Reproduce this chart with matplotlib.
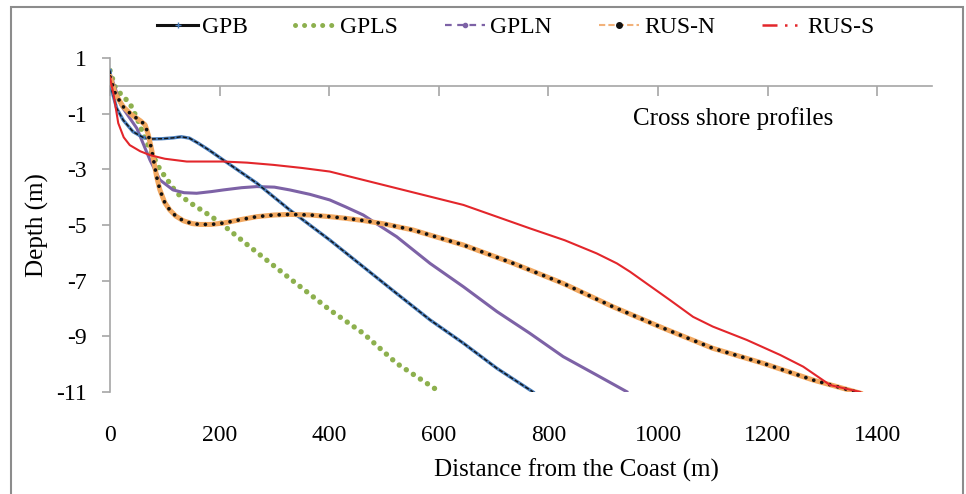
import numpy as np
import matplotlib
matplotlib.use("Agg")
import matplotlib.pyplot as plt
from matplotlib.lines import Line2D
from matplotlib.patches import Rectangle

# cross shore profiles (distance m, depth m)
gpb_x = [0, 3, 12, 24, 42, 60, 73, 95, 115, 130, 145, 160, 180, 207, 268, 328, 401, 462,
         523, 584, 645, 706, 772]
gpb_y = [0.55, -0.15, -0.8, -1.23, -1.65, -1.85, -1.91, -1.9, -1.87, -1.83, -1.88, -2.05,
         -2.3, -2.67, -3.5, -4.46, -5.54, -6.5, -7.46, -8.41, -9.25, -10.15, -11.0]

gpls_x = [0, 9, 21, 36, 50, 62, 73, 91, 122, 150, 176, 200, 255, 330, 401, 462, 523, 602]
gpls_y = [0.55, -0.03, -0.33, -0.62, -1.2, -1.8, -2.3, -3.0, -3.86, -4.25, -4.58, -4.9,
          -5.78, -6.95, -8.05, -8.89, -9.97, -11.0]

gpln_x = [0, 20, 49, 73, 91, 115, 135, 158, 185, 207, 240, 268, 300, 328, 365, 401, 430,
          462, 490, 523, 584, 645, 706, 766, 827, 888, 943]
gpln_y = [0.45, -0.7, -1.53, -2.67, -3.38, -3.74, -3.84, -3.86, -3.8, -3.74, -3.66, -3.62,
          -3.64, -3.74, -3.9, -4.1, -4.35, -4.64, -5.0, -5.42, -6.38, -7.22, -8.11, -8.89,
          -9.73, -10.39, -10.99]

rusn_x = [0, 10, 24, 40, 55, 64, 70, 76, 85, 91, 100, 109, 120, 134, 150, 164, 185, 207,
          240, 268, 300, 328, 365, 401, 430, 462, 500, 553, 645, 736, 827, 918, 1010, 1100,
          1192, 1283, 1369]
rusn_y = [0.32, -0.3, -0.75, -1.05, -1.25, -1.4, -1.77, -2.3, -3.26, -3.74, -4.2, -4.46,
          -4.68, -4.85, -4.95, -4.98, -4.98, -4.93, -4.8, -4.7, -4.64, -4.62, -4.64, -4.7,
          -4.76, -4.84, -4.96, -5.18, -5.72, -6.38, -7.1, -7.94, -8.71, -9.43, -9.97,
          -10.57, -11.04]

russ_x = [0, 6, 15, 25, 36, 55, 73, 100, 140, 207, 250, 298, 350, 401, 523, 645, 766, 830,
          888, 925, 949, 979, 1022, 1064, 1100, 1162, 1223, 1265, 1314, 1338, 1369]
russ_y = [0.3, -0.26, -1.34, -1.85, -2.13, -2.35, -2.49, -2.62, -2.72, -2.72, -2.76, -2.84,
          -2.95, -3.08, -3.68, -4.28, -5.12, -5.55, -6.02, -6.38, -6.68, -7.1, -7.7, -8.3,
          -8.65, -9.13, -9.67, -10.09, -10.75, -10.86, -11.0]

x_ticks = [0, 200, 400, 600, 800, 1000, 1200, 1400]
y_ticks = [1, -1, -3, -5, -7, -9, -11]

plt.rcParams['font.family'] = ['Liberation Serif', 'DejaVu Serif']

fig = plt.figure(figsize=(9.66, 4.94), dpi=100)
ax = fig.add_axes([0.1139, 0.2065, 0.8509, 0.6761])

ymin, ymax = -11, 1
ax.set_xlim(0, 1500)
ax.set_ylim(ymin, ymax)

# profiles
ax.plot(gpls_x, gpls_y, color='#8db04e', lw=3.9, linestyle=(0, (0.01, 1.55)),
        dash_capstyle='round', zorder=2)
ax.plot(gpln_x, gpln_y, color='#7d62a6', lw=2.2, zorder=3)
ax.plot(gpb_x, gpb_y, color='#4a7ebb', lw=2.4, zorder=4)
ax.plot(gpb_x, gpb_y, color='#111111', lw=1.0, linestyle=(0, (3, 1.5)), zorder=4)
ax.plot(rusn_x, rusn_y, color='#f2a860', lw=3.6, zorder=5)
ax.plot(rusn_x, rusn_y, color='#111111', lw=2.7, linestyle=(0, (0.01, 2.2)),
        dash_capstyle='round', zorder=5)
ax.plot(russ_x, russ_y, color='#e3262b', lw=1.5, zorder=6)

# axes styling, excel like
for s in ['top', 'right', 'bottom']:
    ax.spines[s].set_visible(False)
ax.spines['left'].set_color('#a6a6a6')
ax.spines['left'].set_linewidth(1.2)

ax.set_yticks(y_ticks)
ax.set_yticklabels([str(v) for v in y_ticks], fontsize=17)
ax.tick_params(axis='y', direction='out', length=6, width=1.2, color='#a6a6a6', pad=11)

ax.set_xticks(x_ticks)
ax.set_xticklabels([str(v) for v in x_ticks], fontsize=17)
ax.tick_params(axis='x', length=0, pad=24)

# horizontal axis line crossing at zero depth
sec = ax.secondary_xaxis((0 - ymin) / (ymax - ymin))
sec.set_alignment('bottom')
sec.set_xticks(x_ticks)
sec.tick_params(axis='x', direction='out', length=7, width=1.2, color='#a6a6a6',
                labelbottom=False, labeltop=False)
for s in sec.spines.values():
    s.set_color('#a6a6a6')
    s.set_linewidth(1.2)

ax.set_xlabel('Distance from the Coast (m)', fontsize=18)
ax.xaxis.set_label_coords(0.568, -0.2)
ax.set_ylabel('Depth (m)', fontsize=18)
ax.yaxis.set_label_coords(-0.074, 0.5)

ax.text(0.758, 0.82, 'Cross shore profiles', transform=ax.transAxes,
        fontsize=18, ha='center', va='center')

# legend
handles = [
    Line2D([], [], color='#111111', lw=2.2, marker='+', markersize=4,
           markeredgecolor='#4a7ebb', markevery=[1]),
    Line2D([], [], color='#8db04e', lw=3.6, linestyle=(0, (0.01, 1.8)),
           dash_capstyle='round'),
    Line2D([], [], color='#7d62a6', lw=1.6, linestyle=(0, (3, 2.5)), marker='o',
           markersize=3, markevery=[1]),
    Line2D([], [], color='#f2b27a', lw=1.5, linestyle=(0, (3, 1.5)), marker='o',
           markersize=4, markerfacecolor='#111111', markeredgecolor='#111111', markevery=[1]),
    Line2D([], [], color='#e3262b', lw=1.8, linestyle=(0, (6, 3, 1, 3, 1, 3))),
]
fig.legend(handles, ['GPB', 'GPLS', 'GPLN', 'RUS-N', 'RUS-S'], loc='center',
           bbox_to_anchor=(0.534, 0.944), ncol=5, frameon=False, fontsize=17,
           handlelength=1.7, handletextpad=0.2, columnspacing=2.0)

# outer frame of the chart area
fig.patches.append(Rectangle((11 / 966, -0.05), 952 / 966, 0.05 + (1 - 7 / 494),
                             transform=fig.transFigure, fill=False,
                             edgecolor='#8c8c8c', lw=1.5))

fig.savefig('out.png', dpi=100)
